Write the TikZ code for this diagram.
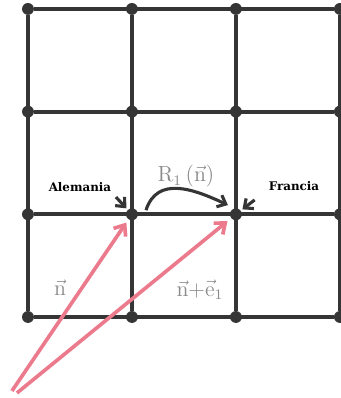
\documentclass[tikz,border=0pt]{standalone}
\usepackage{fontspec}
\usetikzlibrary{arrows.meta}
\newfontfamily\labelfont{DejaVu Serif}
\definecolor{gridgray}{HTML}{353535}
\definecolor{labelgray}{HTML}{8A8A8A}
\definecolor{vecpink}{HTML}{EC7A8D}
\begin{document}
\begin{tikzpicture}[x=2cm,y=1.975cm]
    % Styles
    \tikzset{grid dot/.style={circle,fill=gridgray,inner sep=0pt,minimum size=6.5pt},
             grid line/.style={gridgray,line width=2.3pt},
             country/.style={font=\labelfont\bfseries\fontsize{6.5}{8}\selectfont},
             vec label/.style={labelgray,font=\fontsize{12}{14}\selectfont},
             pointer/.style={-{Straight Barb[length=4pt,width=7pt]},gridgray,line width=1.7pt},
             vec arrow/.style={-{Straight Barb[length=5pt,width=8pt]},vecpink,line width=2pt}}

    % Frame
    \useasboundingbox (-0.269,-0.789) rectangle (3.010,3.087);
    \clip (-0.269,-0.789) rectangle (3.010,3.087);

    % --- Lattice points ---
    \foreach \i in {0,...,3}
      \foreach \j in {0,...,3}
        \node[grid dot] (p\i\j) at (\i,\j) {};

    % --- Lattice lines ---
    \foreach \k in {0,...,3} {
      \draw[grid line] (p0\k) -- (p3\k);
      \draw[grid line] (p\k0) -- (p\k3);
    }

    % --- Countries ---
    \node[country] (alemania) at (0.5,1.266) {Alemania};
    \node[country] (francia) at (2.558,1.276) {Francia};
    \coordinate (a-tail) at (0.846,1.168);
    \coordinate (f-tail) at (2.18,1.14);
    \draw[pointer, shorten >=1pt] (a-tail) -- (p11);
    \draw[pointer, shorten >=1pt] (f-tail) -- (p21);

    % --- Map R_1 ---
    \coordinate (r-start) at (1.135,1.04);
    \coordinate (r-end) at (1.923,1.09);
    \draw[pointer] (r-start) to[out=72,in=155,looseness=1.15] (r-end);
    \node[vec label] (r-label) at (1.519,1.37) {$\mathrm{R}_1\,(\vec{\mathrm{n}})$};

    % --- Position vectors ---
    \coordinate (n-tail) at (-0.154,-0.72);
    \coordinate (ne-tail) at (-0.106,-0.74);
    \draw[vec arrow, shorten >=2pt] (n-tail) -- (p11);
    \draw[vec arrow, shorten >=2.5pt] (ne-tail) -- (p21);
    \node[vec label] (n-label) at (0.308,0.282) {$\vec{\mathrm{n}}$};
    \node[vec label] (ne-label) at (1.654,0.263) {$\vec{\mathrm{n}}{+}\vec{\mathrm{e}}_1$};

\end{tikzpicture}
\end{document}
